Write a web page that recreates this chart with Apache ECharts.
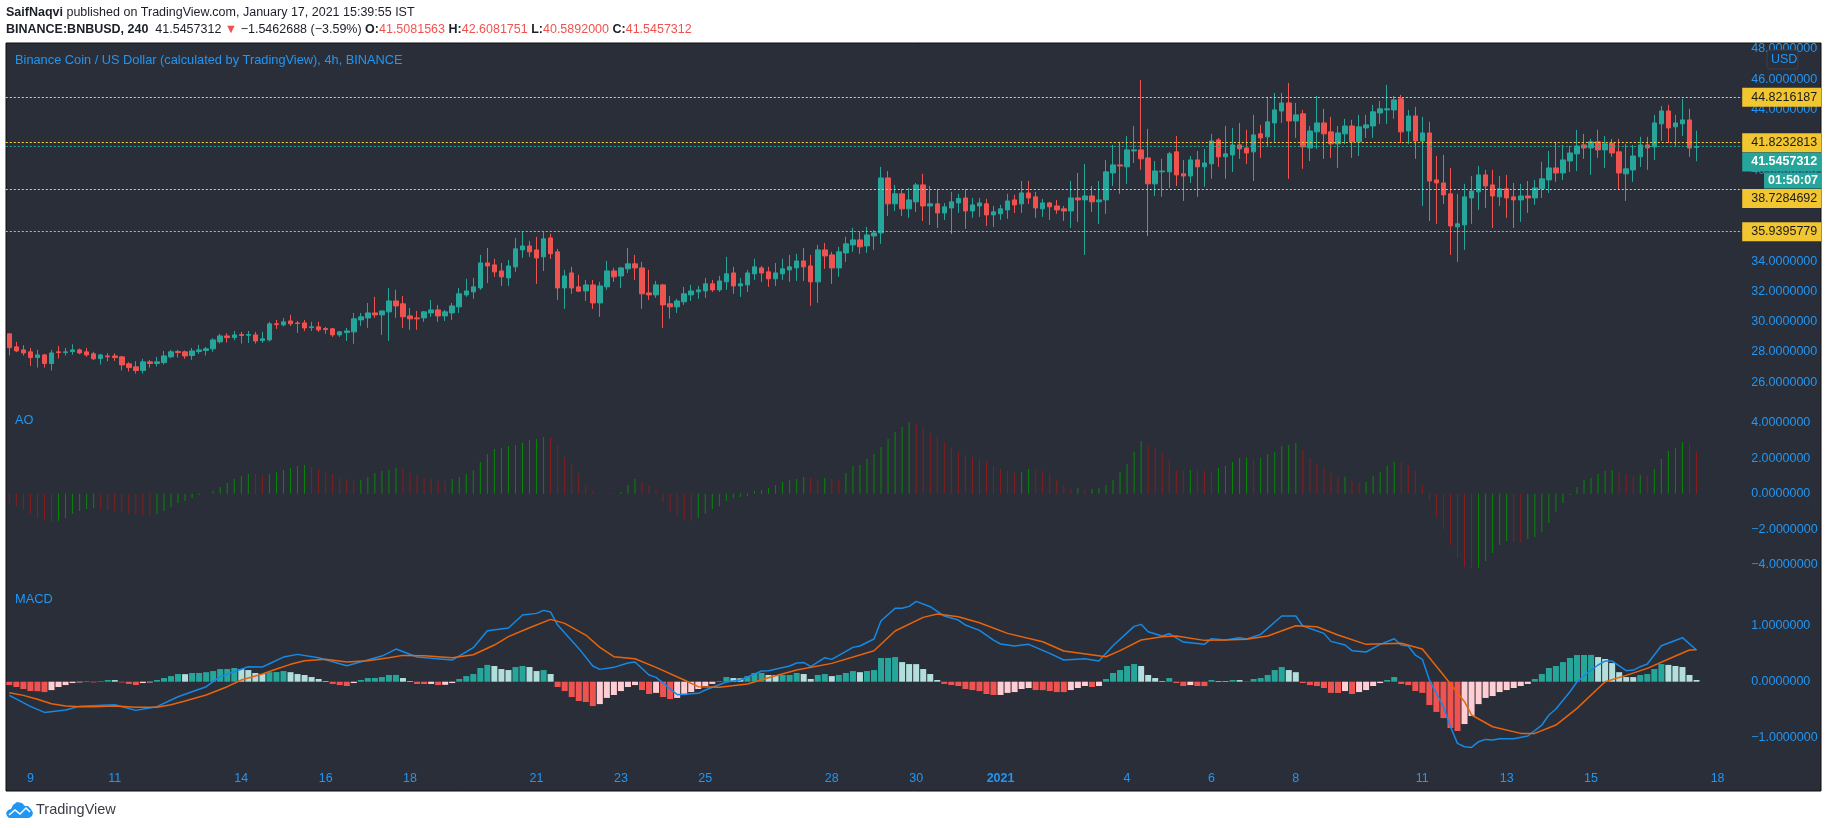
<!DOCTYPE html>
<html><head><meta charset="utf-8">
<style>html,body{margin:0;padding:0;background:#fff}#c{width:1828px;height:828px}</style>
<script src="https://cdn.jsdelivr.net/npm/echarts@6/dist/echarts.min.js"></script>
</head><body><div id="c"></div>
<script>
const opens=[29.20,28.34,28.14,28.01,27.63,27.81,27.24,28.01,27.96,28.03,
28.14,28.01,27.88,27.57,27.74,27.74,27.68,27.22,27.02,26.78,
27.35,27.24,27.30,27.68,28.03,28.01,27.77,28.03,28.10,28.21,
28.67,29.06,28.95,29.15,29.11,29.13,28.76,28.80,29.86,29.79,
30.05,29.92,29.92,29.61,29.66,29.55,29.53,29.13,29.28,29.33,
30.12,30.25,30.58,30.45,30.65,31.37,31.18,30.38,30.25,30.25,
30.58,30.78,30.38,30.58,30.98,31.77,31.97,32.23,33.88,33.75,
33.35,32.89,33.62,34.74,35.00,34.74,34.28,35.53,34.61,32.23,
33.22,32.30,32.03,32.43,31.24,32.30,33.35,33.02,33.49,33.82,
33.55,31.90,31.77,32.43,31.18,30.98,31.31,31.77,31.97,32.03,
32.50,32.10,32.63,33.22,32.36,32.43,33.16,33.55,33.29,32.83,
33.16,33.42,33.55,34.01,33.68,32.63,34.74,34.41,33.55,34.54,
35.07,35.40,35.00,35.66,35.86,39.49,37.78,38.44,37.45,37.91,
39.03,37.64,37.78,37.18,37.51,37.84,38.17,37.31,37.64,37.78,
37.05,37.12,37.38,38.04,37.78,38.50,38.24,37.45,37.84,37.64,
37.45,37.31,38.17,38.04,38.30,37.91,38.04,39.82,40.35,40.22,
41.27,41.34,40.81,39.10,39.89,39.89,41.21,39.76,39.62,40.68,
40.22,40.42,42.00,40.88,41.01,41.67,41.47,41.21,42.40,42.20,
43.12,43.91,44.44,43.25,43.72,41.47,42.53,43.12,42.53,41.74,
42.40,42.92,41.87,42.79,42.92,43.78,43.98,43.98,44.71,42.59,
43.58,41.93,42.46,39.36,39.16,38.44,36.26,36.39,38.17,38.57,
39.69,39.03,38.24,38.77,38.24,38.04,38.30,38.17,38.77,39.36,
40.15,39.82,40.61,41.08,41.67,41.47,41.87,41.34,41.78,41.21,
39.76,40.02,40.88,41.67,41.54,43.06,43.91,42.86,43.06,43.32,41.51];
const closes=[28.29,28.07,27.94,27.63,27.81,27.24,27.94,27.96,28.01,28.14,
27.94,27.81,27.55,27.81,27.68,27.63,27.15,26.97,26.78,27.35,
27.24,27.35,27.74,28.01,27.96,27.74,28.07,28.14,28.21,28.80,
29.06,28.95,29.13,29.09,29.15,28.73,28.87,29.86,29.81,29.99,
29.86,29.88,29.59,29.66,29.46,29.48,29.13,29.33,29.39,30.19,
30.32,30.58,30.45,30.71,31.37,31.04,30.32,30.19,30.19,30.65,
30.78,30.38,30.65,31.04,31.84,32.03,32.30,33.88,33.68,33.29,
32.96,33.68,34.81,35.00,34.61,34.21,35.47,34.48,32.23,33.02,
32.23,32.01,32.43,31.24,32.36,33.35,32.96,33.55,33.82,33.55,
31.84,31.77,32.43,31.11,30.98,31.37,31.84,32.03,32.10,32.50,
32.10,32.69,33.16,32.36,32.50,33.22,33.62,33.22,32.83,33.22,
33.49,33.62,34.01,33.62,32.63,34.74,34.34,33.55,34.61,35.14,
35.40,34.94,35.73,35.86,39.49,37.78,38.44,37.45,38.04,39.03,
37.64,37.78,37.18,37.58,37.91,38.13,37.31,37.71,37.84,37.05,
37.25,37.45,37.97,37.71,38.50,38.17,37.51,37.84,37.58,37.38,
37.31,38.17,38.04,38.30,37.91,38.04,39.89,40.35,40.28,41.34,
41.34,40.75,39.10,39.95,39.95,41.08,39.69,39.62,40.68,40.22,
40.48,41.93,40.88,41.08,41.67,41.41,41.14,42.33,42.13,43.19,
43.98,44.44,43.25,43.65,41.54,42.59,43.12,42.40,41.74,42.46,
42.92,41.87,42.86,42.99,43.85,44.05,44.05,44.64,42.53,43.58,
41.93,42.46,39.29,39.16,38.37,36.32,36.46,38.24,38.63,39.69,
38.96,38.30,38.77,38.17,38.04,38.30,38.17,38.83,39.43,40.15,
39.82,40.68,41.14,41.60,41.47,41.87,41.34,41.74,41.14,39.82,
40.09,40.94,41.67,41.47,43.12,43.91,42.79,43.12,43.32,41.47,41.55];
const lows=[27.77,27.99,27.77,27.08,26.97,26.97,26.78,27.57,27.77,27.83,
27.86,27.68,27.48,27.17,27.39,27.41,26.78,26.71,26.58,26.58,
26.97,27.04,27.17,27.59,27.63,27.55,27.48,27.88,27.77,28.01,
28.56,28.62,28.78,28.56,28.60,28.56,28.60,28.69,29.53,29.68,
29.72,29.26,29.39,29.39,29.33,29.20,29.00,29.00,28.73,28.54,
29.72,29.59,30.25,29.13,28.73,30.25,29.59,29.46,29.46,29.99,
30.32,29.99,30.05,30.12,30.58,31.64,31.51,32.10,32.56,32.96,
32.36,32.36,33.29,34.21,34.28,32.50,33.35,34.15,31.44,30.85,
31.84,31.97,31.37,30.85,30.32,32.10,32.63,32.23,33.22,32.76,
30.85,31.44,31.57,29.59,30.19,30.58,31.11,31.37,31.51,31.57,
31.97,31.97,32.10,31.84,31.64,31.97,32.76,32.63,32.30,32.36,
32.76,32.63,32.69,32.69,31.04,31.24,33.49,32.50,32.96,33.95,
34.61,34.48,34.54,34.74,35.14,36.98,37.31,36.98,36.85,37.25,
36.65,36.39,36.19,36.72,35.80,37.18,36.13,36.85,36.92,36.32,
36.26,36.72,36.79,37.18,37.18,37.78,36.85,36.92,36.72,37.12,
36.65,36.19,36.59,34.41,37.25,36.46,37.12,38.96,38.44,39.10,
40.48,40.02,35.66,38.30,38.24,38.83,38.96,37.97,39.16,38.24,
38.90,39.43,40.22,39.43,39.89,40.75,40.42,39.29,40.81,41.54,
41.87,43.12,39.43,42.13,40.09,40.61,41.41,40.75,40.81,40.15,
41.74,40.81,40.94,42.13,42.13,43.06,43.06,43.39,41.80,41.74,
40.75,37.64,36.65,36.46,37.78,34.41,33.95,34.74,36.46,37.38,
37.51,36.19,37.64,36.85,36.19,36.59,37.18,37.71,38.17,38.50,
39.23,39.36,39.89,39.95,40.75,39.69,40.81,40.15,40.88,38.70,
37.97,39.23,40.22,40.02,40.68,41.93,41.80,41.60,42.26,40.88,40.59];
const highs=[29.20,28.67,28.45,28.27,28.14,27.88,28.14,28.40,28.27,28.51,
28.23,28.27,28.01,27.88,27.92,27.92,27.74,27.33,27.39,27.55,
27.48,27.68,28.07,28.14,28.14,28.10,28.27,28.47,28.34,28.91,
29.20,29.24,29.39,29.33,29.39,29.33,29.33,29.99,30.12,30.25,
30.45,30.05,30.12,29.99,29.99,29.66,29.59,29.39,29.59,30.58,
30.58,31.24,31.64,30.71,32.23,32.10,31.70,30.91,30.71,30.71,
31.44,31.11,30.78,31.24,32.23,32.83,32.89,34.41,34.87,34.15,
33.88,34.08,35.53,35.91,35.33,35.60,35.91,35.80,34.81,33.42,
33.62,33.09,32.76,32.76,32.63,34.01,33.55,33.62,34.87,34.41,
33.95,33.42,32.69,32.50,31.70,31.51,32.30,32.43,32.36,32.89,
32.76,33.02,34.28,33.62,32.89,33.42,34.15,33.68,33.62,33.88,
34.15,34.41,34.48,34.87,34.41,35.07,35.20,34.61,34.94,35.60,
36.19,35.93,36.26,36.06,40.22,39.95,39.03,38.77,38.83,39.16,
39.76,38.96,38.77,37.84,38.57,38.44,38.77,38.17,38.17,38.11,
37.64,37.71,38.44,38.37,39.29,39.29,38.57,38.11,37.91,38.04,
37.64,39.29,39.82,40.42,38.96,39.29,40.68,41.67,41.87,42.26,
42.92,45.96,42.73,40.61,40.75,41.21,42.26,40.68,40.94,41.27,
41.41,42.40,42.13,42.92,42.79,43.12,42.66,43.65,42.99,44.84,
45.10,45.10,45.76,44.44,43.98,42.92,44.90,44.05,43.52,42.92,
43.39,43.32,43.65,43.65,44.31,44.57,45.63,44.90,44.97,43.98,
44.18,43.52,43.19,40.94,41.01,40.15,38.44,39.10,39.62,40.28,
40.02,40.02,39.62,39.69,39.16,39.10,39.29,39.36,40.55,41.27,
41.87,41.67,41.60,42.66,42.40,42.07,42.66,42.26,42.07,42.07,
41.74,41.67,42.20,42.20,43.65,44.24,44.31,43.65,44.71,44.05,42.61];
const aoValues=[-0.54,-0.69,-0.86,-1.11,-1.37,-1.48,-1.60,-1.52,-1.37,-1.15,
-0.98,-0.86,-0.81,-0.86,-0.92,-0.98,-1.03,-1.15,-1.20,-1.21,
-1.26,-1.15,-0.98,-0.77,-0.53,-0.41,-0.24,-0.08,-0.02,0.15,
0.38,0.60,0.83,1.00,1.11,1.10,1.05,1.11,1.22,1.33,
1.45,1.56,1.62,1.50,1.39,1.22,1.11,0.94,0.83,0.71,
0.77,0.94,1.16,1.28,1.33,1.45,1.39,1.16,1.05,0.94,
0.83,0.71,0.70,0.83,0.94,1.11,1.33,1.78,2.23,2.52,
2.57,2.69,2.74,2.85,3.02,3.08,3.19,3.14,2.69,2.07,
1.67,1.16,0.49,0.15,0.05,0.02,0.03,0.09,0.49,0.83,
0.66,0.43,0.21,-0.45,-0.98,-1.26,-1.48,-1.54,-1.37,-1.15,
-0.86,-0.69,-0.41,-0.24,-0.19,-0.13,0.15,0.21,0.32,0.49,
0.66,0.77,0.83,0.94,0.88,0.77,0.88,0.83,0.77,1.16,
1.56,1.62,1.95,2.23,2.63,3.08,3.47,3.76,4.04,3.92,
3.70,3.42,3.19,2.91,2.57,2.35,2.18,2.07,1.95,1.84,
1.56,1.39,1.28,1.16,1.22,1.39,1.38,1.28,1.05,0.77,
0.43,0.26,0.32,0.26,0.27,0.32,0.49,0.77,1.22,1.67,
2.35,2.97,2.74,2.57,2.29,1.90,1.33,1.28,1.33,1.32,
1.28,1.22,1.45,1.56,1.78,2.01,2.02,1.95,2.01,2.23,
2.35,2.69,2.74,2.85,2.46,2.01,1.67,1.50,1.16,0.94,
0.95,0.71,0.60,0.66,1.00,1.22,1.56,1.78,1.77,1.62,
1.28,0.49,-0.41,-1.31,-1.99,-2.89,-3.62,-4.13,-4.19,-4.18,
-3.79,-3.34,-2.89,-2.67,-2.72,-2.73,-2.55,-2.44,-2.16,-1.65,
-1.03,-0.53,-0.08,0.38,0.77,0.88,1.11,1.28,1.33,1.22,
1.11,1.00,1.05,1.00,1.39,1.95,2.40,2.57,2.91,2.80,2.35];
const histValues=[-0.06,-0.095,-0.13,-0.167,-0.17,-0.185,-0.15,-0.095,-0.06,-0.024,
-0.012,0.01,-0.012,0.01,0.03,0.029,-0.012,-0.04,-0.06,-0.024,
-0.012,0.03,0.065,0.10,0.137,0.135,0.155,0.156,0.17,0.19,
0.226,0.227,0.245,0.226,0.208,0.155,0.137,0.17,0.172,0.19,
0.17,0.137,0.12,0.083,0.048,0.012,-0.04,-0.06,-0.077,-0.024,
0.03,0.065,0.066,0.083,0.12,0.121,0.065,0.012,-0.04,-0.041,
-0.04,-0.06,-0.055,-0.024,0.048,0.10,0.137,0.245,0.30,0.28,
0.226,0.208,0.262,0.28,0.262,0.19,0.208,0.137,-0.095,-0.167,
-0.274,-0.345,-0.363,-0.435,-0.40,-0.29,-0.238,-0.167,-0.095,-0.06,
-0.149,-0.22,-0.20,-0.274,-0.31,-0.29,-0.238,-0.185,-0.13,-0.077,
-0.04,0.012,0.083,0.065,0.06,0.10,0.155,0.156,0.12,0.119,
0.12,0.121,0.155,0.137,0.048,0.12,0.137,0.10,0.12,0.155,
0.19,0.17,0.19,0.208,0.423,0.424,0.44,0.35,0.315,0.314,
0.226,0.137,0.03,-0.04,-0.06,-0.077,-0.13,-0.149,-0.167,-0.22,
-0.238,-0.237,-0.20,-0.185,-0.13,-0.113,-0.149,-0.15,-0.167,-0.185,
-0.186,-0.149,-0.113,-0.077,-0.095,-0.077,0.048,0.155,0.208,0.28,
0.315,0.28,0.12,0.065,0.012,0.065,-0.024,-0.077,-0.06,-0.077,
-0.078,0.03,0.012,0.011,0.03,0.029,-0.006,0.048,0.065,0.12,
0.208,0.262,0.208,0.17,-0.024,-0.06,-0.077,-0.113,-0.20,-0.201,
-0.167,-0.22,-0.185,-0.149,-0.077,-0.024,0.03,0.083,-0.04,-0.06,
-0.167,-0.20,-0.417,-0.54,-0.65,-0.827,-0.88,-0.756,-0.613,-0.40,
-0.29,-0.256,-0.185,-0.149,-0.113,-0.077,-0.04,0.048,0.137,0.245,
0.28,0.35,0.423,0.476,0.477,0.478,0.44,0.405,0.333,0.17,
0.083,0.082,0.12,0.137,0.226,0.315,0.30,0.28,0.262,0.12,0.03];
const macdIdx=[0,3,5,8,10,15,18,21,24,28,30,34,36,39,41,44,48,53,55,58,63,66,68,71,73,75,76,77,78,81,83,84,86,88,89,91,92,95,98,99,102,104,107,108,111,112,113,114,116,117,120,121,123,124,126,127,128,129,131,133,135,136,138,140,141,143,145,148,150,153,155,157,160,161,162,164,165,167,170,171,173,175,176,178,181,183,184,187,188,190,191,193,195,197,198,199,200,201,202,204,205,206,207,208,209,210,211,212,214,216,218,219,220,222,223,225,226,227,228,230,231,232,233,235,238,240];
const macdVal=[-0.244,-0.44,-0.548,-0.506,-0.44,-0.411,-0.512,-0.446,-0.268,-0.089,0.089,0.268,0.262,0.44,0.488,0.429,0.286,0.458,0.583,0.44,0.387,0.607,0.911,0.958,1.19,1.22,1.274,1.244,1.012,0.595,0.28,0.22,0.256,0.333,0.351,0.119,0.077,-0.232,-0.208,-0.149,-0.006,0.03,0.19,0.196,0.28,0.333,0.345,0.268,0.429,0.399,0.613,0.637,0.762,1.089,1.31,1.31,1.345,1.435,1.339,1.173,1.101,1.012,0.917,0.744,0.673,0.637,0.667,0.506,0.387,0.411,0.369,0.643,0.988,1.024,0.893,0.815,0.857,0.708,0.667,0.768,0.744,0.786,0.762,0.845,1.173,1.173,0.994,0.863,0.72,0.655,0.554,0.53,0.667,0.768,0.655,0.637,0.476,0.399,0.03,-0.446,-0.804,-1.101,-1.161,-1.173,-1.071,-1.03,-1.042,-1.018,-1.018,-0.97,-0.774,-0.595,-0.488,-0.179,0,0.208,0.298,0.369,0.369,0.196,0.208,0.268,0.315,0.643,0.786,0.565];
const signalIdx=[0,2,4,6,8,10,12,15,18,21,23,25,28,31,33,36,38,40,42,45,48,51,54,56,59,63,66,69,71,74,77,79,82,84,86,89,92,96,98,101,105,108,112,117,123,126,130,132,135,138,142,147,150,156,158,161,164,166,170,173,176,179,183,186,189,193,198,201,204,207,208,211,215,217,220,223,227,230,233,237,239,240];
const signalVal=[-0.196,-0.244,-0.315,-0.393,-0.435,-0.446,-0.446,-0.435,-0.458,-0.458,-0.41,-0.345,-0.238,-0.089,0.03,0.137,0.226,0.31,0.375,0.40,0.351,0.375,0.429,0.47,0.464,0.429,0.482,0.655,0.804,0.964,1.113,1.042,0.833,0.613,0.446,0.41,0.256,0.03,-0.089,-0.101,-0.042,0.071,0.208,0.327,0.554,0.905,1.149,1.208,1.161,1.054,0.863,0.714,0.548,0.446,0.554,0.744,0.804,0.815,0.738,0.744,0.756,0.815,1.00,0.982,0.833,0.667,0.685,0.583,0.119,-0.357,-0.595,-0.804,-0.923,-0.923,-0.774,-0.476,0,0.113,0.238,0.458,0.565,0.571];
const tickIndex=[3,15,33,45,57,75,87,99,117,129,141,159,171,183,201,213,225,243];
const tickLabels=['9','11','14','16','18','21','23','25','28','30','2021','4','6','8','11','13','15','18'];
const levelValues=[44.8216187,41.8232813,38.7284692,35.9395779];
const levelLabels=['44.8216187','41.8232813','38.7284692','35.9395779'];
const levelLabelAnchors=[44.8216187,41.8232813,38.14,35.9395779];
const levelLineColors=['#ffd23c','#ffd23c','#ffd23c','#ffb300'];
const lastPrice=41.5457312;
const lastPriceAnchor=40.54;
const barCount=247;

const FONT='"Liberation Sans",sans-serif';
const AXF=12.5;
const BLUE='#2196f3';
const INK='#1c1f28';
const categories=Array.from({length:barCount},(_,i)=>{const k=tickIndex.indexOf(i);return k>=0?tickLabels[k]:'b'+i;});
const candles=opens.map((o,i)=>[o,closes[i],lows[i],highs[i]]);
const AX=[0,1,2];
const xAxes=AX.map(i=>({type:'category',gridIndex:i,data:categories,boundaryGap:true,
  axisLine:{show:false},axisTick:{show:false},splitLine:{show:false},
  axisLabel:i<2?{show:false}:{show:true,inside:true,margin:9,color:BLUE,fontFamily:FONT,fontSize:AXF,
    interval:(idx)=>tickIndex.includes(idx),
    formatter:v=>v==='2021'?'{b|2021}':v, rich:{b:{fontWeight:'bold',color:BLUE,fontFamily:FONT,fontSize:AXF}}}}));
const fmt7=v=>(v<0?'\u2212':'')+Math.abs(v).toFixed(7);
function yAx(i,min,max,interval,hide){return {type:'value',gridIndex:i,position:'right',min,max,interval,scale:true,
  axisLine:{show:false},axisTick:{show:false},splitLine:{show:false},
  axisLabel:{color:BLUE,fontFamily:FONT,fontSize:AXF,margin:9,showMinLabel:true,showMaxLabel:true,
    formatter:v=>hide.includes(v)?'':fmt7(v)}};}
const lvlLabel=(txt,bg,fg,bold)=>({show:true,position:'end',distance:0,formatter:txt,backgroundColor:bg,color:fg,opacity:1,
  fontFamily:FONT,fontSize:AXF,fontWeight:bold?'bold':'normal',padding:[3,0,3,9],width:70,height:13,lineHeight:13,align:'left',verticalAlign:'middle'});
const DOT=[2,2];
const markData=levelValues.map((v,i)=>({yAxis:v,lineStyle:{color:levelLineColors[i],type:DOT,width:1},label:{show:false}}));
markData.push({yAxis:lastPrice,lineStyle:{color:'#26a69a',type:DOT,width:1},label:{show:false}});
levelLabelAnchors.forEach((a,i)=>markData.push({yAxis:a,lineStyle:{color:'rgba(0,0,0,0)',width:0},
  label:lvlLabel(levelLabels[i],'#f2c631','#1b1b1b',false)}));
markData.push({yAxis:lastPriceAnchor,lineStyle:{color:'rgba(0,0,0,0)',width:0},
  label:lvlLabel(lastPrice.toFixed(7),'#26a69a','#ffffff',true)});
const histColor=i=>{const h=histValues[i],p=i>0?histValues[i-1]:0;
  return h>=0?(p<h?'#26a69a':'#b2dfdb'):(p<h?'#ffcdd2':'#ef5350');};
const option={animation:false,backgroundColor:'#ffffff',textStyle:{fontFamily:FONT},
 grid:[{left:5.8,width:1736.4,top:49,height:363.6},{left:5.8,width:1736.4,top:387.2,height:213},{left:5.8,width:1736.4,top:569.7,height:224}],
 xAxis:xAxes,
 yAxis:[yAx(0,24,48,2,[24]),yAx(1,-6,6,2,[-6,6]),yAx(2,-2,2,1,[-2,2])],
 series:[
  {type:'candlestick',xAxisIndex:0,yAxisIndex:0,data:candles,barWidth:5,z:3,
   itemStyle:{color:'#26a69a',color0:'#ef5350',borderColor:'#26a69a',borderColor0:'#ef5350',borderWidth:1},
   markLine:{silent:true,symbol:'none',animation:false,data:markData,z:6}},
  {type:'bar',xAxisIndex:1,yAxisIndex:1,data:aoValues,barWidth:1,
   itemStyle:{color:p=>(p.dataIndex>0&&aoValues[p.dataIndex]>aoValues[p.dataIndex-1])?'#058a05':'#8b1c1c'}},
  {type:'bar',xAxisIndex:2,yAxisIndex:2,data:histValues,barWidth:6,z:2,
   itemStyle:{color:p=>histColor(p.dataIndex)}},
  {type:'line',xAxisIndex:2,yAxisIndex:2,data:macdIdx.map((x,i)=>[x,macdVal[i]]),showSymbol:false,symbol:'none',z:3,
   lineStyle:{color:'#1689e5',width:1.5}},
  {type:'line',xAxisIndex:2,yAxisIndex:2,data:signalIdx.map((x,i)=>[x,signalVal[i]]),showSymbol:false,symbol:'none',z:4,
   lineStyle:{color:'#e8640c',width:1.5}}
 ],
 graphic:[
  {type:'rect',z:-100,silent:true,shape:{x:6,y:43,width:1815,height:748},style:{fill:'#2a2e39',stroke:'#0c0c0c',lineWidth:1}},
  {type:'text',z:100,left:6,top:6,style:{fontFamily:FONT,fontSize:AXF,fill:INK,
    text:'{b|SaifNaqvi} published on TradingView.com, January 17, 2021 15:39:55 IST',
    rich:{b:{fontWeight:'bold',fontFamily:FONT,fontSize:AXF,fill:INK}}}},
  {type:'text',z:100,left:6,top:23,style:{fontFamily:FONT,fontSize:AXF,fill:INK,
    text:'{b|BINANCE:BNBUSD, 240}  41.5457312 {r|▼} −1.5462688 (−3.59%) {b|O:}{r|41.5081563} {b|H:}{r|42.6081751} {b|L:}{r|40.5892000} {b|C:}{r|41.5457312}',
    rich:{b:{fontWeight:'bold',fontFamily:FONT,fontSize:AXF,fill:INK},r:{fontFamily:FONT,fontSize:AXF,fill:'#ef5350'}}}},
  {type:'text',z:100,left:15,top:54,style:{fontFamily:FONT,fontSize:12.8,fill:BLUE,text:'Binance Coin / US Dollar (calculated by TradingView), 4h, BINANCE'}},
  {type:'text',z:100,left:15,top:414,style:{fontFamily:FONT,fontSize:12.8,fill:BLUE,text:'AO'}},
  {type:'text',z:100,left:15,top:593,style:{fontFamily:FONT,fontSize:12.8,fill:BLUE,text:'MACD'}},
  {type:'rect',z:100,silent:true,shape:{x:1767,y:50,width:31,height:19,r:3},style:{fill:'#2a2e39',stroke:'#3a3e4a',lineWidth:1}},
  {type:'text',z:101,left:1771,top:53,style:{fontFamily:FONT,fontSize:AXF,fill:BLUE,text:'USD'}},
  {type:'rect',z:100,silent:true,shape:{x:1764,y:172.5,width:57.5,height:16},style:{fill:'#26a69a'}},
  {type:'text',z:101,left:1768,top:174,style:{fontFamily:FONT,fontSize:AXF,fill:'#ffffff',fontWeight:'bold',text:'01:50:07'}},
  {type:'polygon',z:100,silent:true,shape:{points:[[6,813],[8,810],[11,809],[13,805],[17,802],[22,803],[25,806],[28,806],[31,809],[33,813],[32,816],[29,818],[9,818],[7,816]]},
    style:{fill:'#2196f3'}},
  {type:'polyline',z:101,silent:true,shape:{points:[[9,815],[15,810],[20,814],[26,808],[30,812]]},style:{stroke:'#ffffff',lineWidth:1.5,fill:null}},
  {type:'text',z:100,left:36,top:802,style:{fontFamily:FONT,fontSize:14.5,fill:'#3a3d45',text:'TradingView'}}
 ]};
echarts.init(document.getElementById('c'),null,{renderer:'canvas'}).setOption(option);
</script></body></html>
